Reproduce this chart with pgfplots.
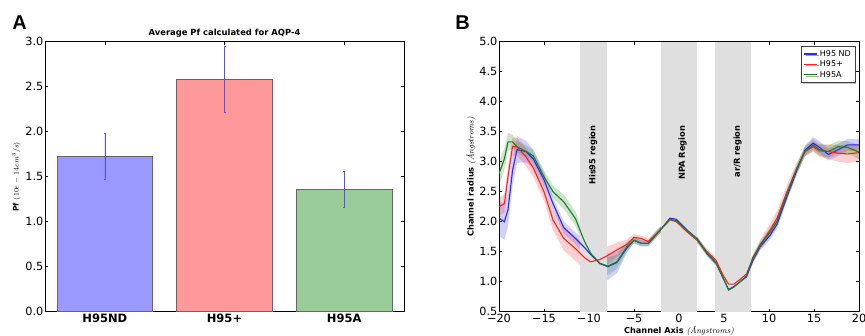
\documentclass[border=0pt]{standalone}
\usepackage{fontspec}
\newfontfamily\djv{DejaVu Sans}
\newfontfamily\lib{Liberation Sans}
\usepackage{pgfplots}
\pgfplotsset{compat=1.18}
\usepackage{pgfplotstable}
\usepgfplotslibrary{fillbetween}
\usetikzlibrary{shadows}

\definecolor{barblue}{HTML}{9999FF}
\definecolor{barred}{HTML}{FF9999}
\definecolor{bargreen}{HTML}{99CC99}
\definecolor{eblue}{HTML}{5050FF}
\definecolor{lblue}{HTML}{2828FF}
\definecolor{lred}{HTML}{FF2020}
\definecolor{lgreen}{HTML}{1A801A}

\pgfplotstableread{
x y e
-20 2.06 0.30
-19.4 2.00 0.30
-19 2.20 0.28
-18.5 2.85 0.25
-18 3.20 0.22
-17 3.17 0.18
-16.2 3.05 0.15
-15 2.70 0.12
-14 2.30 0.10
-12.8 1.90 0.10
-11.5 1.72 0.10
-10.5 1.57 0.12
-9.8 1.45 0.15
-8.8 1.30 0.20
-7.9 1.25 0.22
-6.9 1.32 0.18
-5.8 1.56 0.08
-5 1.69 0.05
-4.2 1.64 0.05
-3.4 1.64 0.05
-2.1 1.86 0.05
-1 2.06 0.05
-0.3 2.04 0.05
0.9 1.86 0.05
2 1.72 0.04
3.1 1.47 0.04
4.1 1.31 0.04
4.9 1.06 0.05
5.5 0.87 0.05
6.1 0.92 0.05
6.8 1.00 0.05
7.5 1.08 0.05
8.2 1.35 0.05
9 1.58 0.06
10.1 1.77 0.07
10.9 1.96 0.07
12 2.42 0.07
13.1 2.86 0.07
14 3.19 0.08
14.9 3.31 0.10
15.6 3.24 0.10
16.6 3.12 0.10
17.7 3.20 0.10
18.7 3.28 0.10
20 3.28 0.10
}\blueT

\pgfplotstableread{
x y e
-20 2.25 0.15
-19.4 2.30 0.15
-19 2.75 0.15
-18.5 3.25 0.15
-18 3.25 0.15
-17 3.08 0.15
-16.2 2.90 0.15
-15 2.50 0.15
-14 2.03 0.17
-12.8 1.72 0.20
-11.5 1.55 0.20
-10.5 1.40 0.20
-9.8 1.33 0.20
-8.8 1.37 0.18
-7.9 1.44 0.15
-6.9 1.53 0.12
-5.8 1.62 0.08
-5 1.74 0.05
-4.2 1.72 0.05
-3.4 1.67 0.05
-2.1 1.86 0.05
-1 2.03 0.05
-0.3 2.00 0.05
0.9 1.83 0.05
2 1.69 0.05
3.1 1.50 0.05
4.1 1.36 0.05
4.9 1.11 0.06
5.5 0.96 0.07
6.1 0.96 0.07
6.8 1.04 0.06
7.5 1.13 0.06
8.2 1.38 0.06
9 1.61 0.08
10.1 1.86 0.10
10.9 2.06 0.12
12 2.50 0.12
13.1 2.89 0.10
14 3.17 0.08
14.9 3.25 0.08
15.6 3.18 0.10
16.6 3.17 0.12
17.7 3.14 0.14
18.7 3.13 0.15
20 3.15 0.15
}\redT

\pgfplotstableread{
x y e
-20 2.80 0.20
-19.4 3.05 0.18
-19 3.33 0.15
-18.5 3.33 0.12
-18 3.25 0.10
-17 3.17 0.10
-16.2 3.10 0.10
-15 2.75 0.10
-14 2.50 0.10
-12.8 2.33 0.12
-11.5 2.05 0.12
-10.5 1.67 0.12
-9.8 1.47 0.12
-8.8 1.31 0.15
-7.9 1.26 0.15
-6.9 1.33 0.12
-5.8 1.58 0.08
-5 1.69 0.05
-4.2 1.64 0.05
-3.4 1.64 0.05
-2.1 1.86 0.05
-1 2.04 0.05
-0.3 2.02 0.05
0.9 1.85 0.05
2 1.71 0.05
3.1 1.48 0.05
4.1 1.32 0.05
4.9 1.07 0.05
5.5 0.86 0.05
6.1 0.91 0.05
6.8 1.00 0.05
7.5 1.10 0.05
8.2 1.40 0.05
9 1.61 0.06
10.1 1.82 0.07
10.9 2.01 0.07
12 2.46 0.07
13.1 2.89 0.07
14 3.17 0.08
14.9 3.28 0.10
15.6 3.20 0.10
16.6 3.17 0.10
17.7 3.25 0.10
18.7 3.24 0.10
20 3.16 0.12
}\greenT

\pgfplotsset{
  mpl/.style={
    scale only axis,
    anchor=south west,
    tick align=inside,
    major tick length=3pt,
    axis line style={black, line width=0.6pt},
    every tick/.style={black, line width=0.5pt},
    ticklabel style={font=\djv\fontsize{11.3}{12}\selectfont},
    yticklabel style={inner sep=1.5pt},
    xticklabel style={inner sep=2pt},
  }
}

\begin{document}
\begin{tikzpicture}
% ---------------- Panel A ----------------
\begin{axis}[mpl,
  at={(45pt,23.3pt)}, width=359pt, height=270pt,
  xmin=-0.5, xmax=2.5, ymin=0, ymax=3,
  xtick={0,1,2}, xticklabels={H95ND,H95+,H95A},
  xticklabel style={font=\djv\bfseries\fontsize{11.5}{12}\selectfont},
  ytick={0,0.5,1,1.5,2,2.5,3},
  yticklabels={0.0,0.5,1.0,1.5,2.0,2.5,3.0},
]
\addplot[ybar, bar width=0.8, bar shift=0pt, fill=barblue, draw=black!60, line width=0.6pt,
  error bars/.cd, y dir=both, y explicit,
  error bar style={color=eblue, line width=0.6pt},
  error mark options={rotate=90, mark size=1pt, color=eblue}]
  coordinates {(0,1.73) +- (0,0.255)};
\addplot[ybar, bar width=0.8, bar shift=0pt, fill=barred, draw=black!60, line width=0.6pt,
  error bars/.cd, y dir=both, y explicit,
  error bar style={color=eblue, line width=0.6pt},
  error mark options={rotate=90, mark size=1pt, color=eblue}]
  coordinates {(1,2.585) +- (0,0.37)};
\addplot[ybar, bar width=0.8, bar shift=0pt, fill=bargreen, draw=black!60, line width=0.6pt,
  error bars/.cd, y dir=both, y explicit,
  error bar style={color=eblue, line width=0.6pt},
  error mark options={rotate=90, mark size=1pt, color=eblue}]
  coordinates {(2,1.36) +- (0,0.2)};
\end{axis}

% ---------------- Panel B ----------------
\begin{axis}[mpl,
  at={(499pt,23.3pt)}, width=360pt, height=270pt,
  xmin=-20, xmax=20, ymin=0.5, ymax=5,
  xtick={-20,-15,-10,-5,0,5,10,15,20},
  xticklabels={−20,−15,−10,−5,0,5,10,15,20},
  ytick={0.5,1,1.5,2,2.5,3,3.5,4,4.5,5},
  yticklabels={0.5,1.0,1.5,2.0,2.5,3.0,3.5,4.0,4.5,5.0},
  legend style={at={(rel axis cs:0.989,0.984)}, anchor=north east,
    font=\djv\fontsize{8}{9}\selectfont, draw=black!75, line width=0.5pt,
    fill=white, inner sep=2pt, row sep=-1pt,
    drop shadow={shadow xshift=1.5pt, shadow yshift=-1.5pt, opacity=0.45},
    cells={anchor=west}},
  legend image code/.code={\draw[#1, line width=1.2pt] (0pt,0pt) -- (13pt,0pt);},
]
% gray regions
\addplot[fill=gray!25, draw=none, forget plot] coordinates {(-11,0.5) (-11,5) (-8,5) (-8,0.5)} -- cycle;
\addplot[fill=gray!25, draw=none, forget plot] coordinates {(-2,0.5) (-2,5) (2,5) (2,0.5)} -- cycle;
\addplot[fill=gray!25, draw=none, forget plot] coordinates {(4,0.5) (4,5) (8,5) (8,0.5)} -- cycle;

\node[rotate=90, font=\djv\bfseries\fontsize{8.3}{9}\selectfont] at (axis cs:-9.55,3.11) {His95 region};
\node[rotate=90, font=\djv\bfseries\fontsize{8.3}{9}\selectfont] at (axis cs:0.4,3.15) {NPA Region};
\node[rotate=90, font=\djv\bfseries\fontsize{8.3}{9}\selectfont] at (axis cs:6.5,3.17) {ar/R region};

% bands
\addplot[name path=bu, draw=none, forget plot] table[x=x, y expr=\thisrow{y}+\thisrow{e}] {\blueT};
\addplot[name path=bl, draw=none, forget plot] table[x=x, y expr=\thisrow{y}-\thisrow{e}] {\blueT};
\addplot[fill=lblue, fill opacity=0.22, draw=none, forget plot] fill between[of=bu and bl];
\addplot[name path=ru, draw=none, forget plot] table[x=x, y expr=\thisrow{y}+\thisrow{e}] {\redT};
\addplot[name path=rl, draw=none, forget plot] table[x=x, y expr=\thisrow{y}-\thisrow{e}] {\redT};
\addplot[fill=lred, fill opacity=0.22, draw=none, forget plot] fill between[of=ru and rl];
\addplot[name path=gu, draw=none, forget plot] table[x=x, y expr=\thisrow{y}+\thisrow{e}] {\greenT};
\addplot[name path=gl, draw=none, forget plot] table[x=x, y expr=\thisrow{y}-\thisrow{e}] {\greenT};
\addplot[fill=lgreen, fill opacity=0.22, draw=none, forget plot] fill between[of=gu and gl];

% lines
\addplot[color=lblue, line width=1.1pt] table[x=x, y=y] {\blueT};
\addlegendentry{H95 ND}
\addplot[color=lred, line width=1.1pt] table[x=x, y=y] {\redT};
\addlegendentry{H95+}
\addplot[color=lgreen, line width=1.1pt] table[x=x, y=y] {\greenT};
\addlegendentry{H95A}
\end{axis}

% ---------------- texts ----------------
\node[font=\lib\bfseries\fontsize{20}{20}\selectfont] at (19.5pt,312.5pt) {A};
\node[font=\lib\bfseries\fontsize{20}{20}\selectfont] at (462.5pt,312.5pt) {B};
\node[font=\djv\bfseries\fontsize{8.4}{9}\selectfont] at (224.5pt,302pt) {Average Pf calculated for AQP-4};
\node[rotate=90, font=\fontsize{7.5}{9}\selectfont] at (16.5pt,158.3pt) {{\djv\bfseries Pf} $(10e-14cm^3/s)$};
\node[rotate=90, font=\fontsize{8.2}{9}\selectfont] at (471pt,158.3pt) {{\djv\bfseries Channel radius} \textit{(Ångstroms)}};
\node[anchor=base, font=\fontsize{8.2}{9}\selectfont] at (679pt,2pt) {{\djv\bfseries Channel Axis} \textit{(Ångstroms)}};

\pgfresetboundingbox
\path (0pt,0pt) rectangle (865pt,335pt);
\end{tikzpicture}
\end{document}
